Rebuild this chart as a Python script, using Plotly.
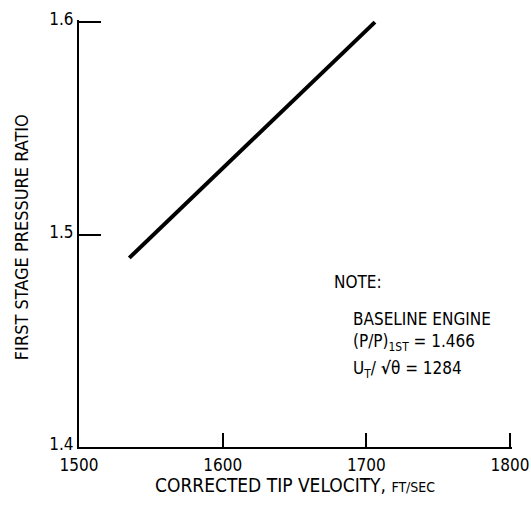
import plotly.graph_objects as go

# Data
tip_velocity = [1535, 1706]
pressure_ratio = [1.489, 1.600]
x_ticks = [1500, 1600, 1700, 1800]
y_ticks = [1.4, 1.5, 1.6]
y_tick_labels = ["1.4", "1.5", "1.6"]

FONT = "DejaVu Sans Condensed, Liberation Sans Narrow, sans-serif"

fig = go.Figure()
fig.add_trace(go.Scatter(x=tip_velocity, y=pressure_ratio, mode="lines",
                         line=dict(color="black", width=4), showlegend=False,
                         hoverinfo="skip", cliponaxis=False))

fig.update_layout(
    width=531, height=506,
    margin=dict(l=79, r=19, t=20, b=59, autoexpand=False),
    paper_bgcolor="white", plot_bgcolor="white",
    font=dict(family=FONT, size=17, color="black"),
    xaxis=dict(range=[1500, 1801.4], tickvals=x_ticks, ticktext=[str(v) for v in x_ticks],
               ticks="inside", ticklen=14, tickwidth=2, tickcolor="black",
               showline=True, linecolor="black", linewidth=2, showgrid=False,
               zeroline=False, fixedrange=True, automargin=False, tickfont=dict(size=17),
               ticklabelstandoff=2),
    yaxis=dict(range=[1.4, 1.601], tickvals=y_ticks, ticktext=y_tick_labels,
               ticks="inside", ticklen=22, tickwidth=2, tickcolor="black",
               showline=True, linecolor="black", linewidth=2, showgrid=False,
               zeroline=False, fixedrange=True, automargin=False, tickfont=dict(size=17),
               ticklabelshift=-3),
)

ann = [
    dict(x=0.499, y=-0.09, text="CORRECTED TIP VELOCITY, <span style='font-size:14px'>FT/SEC</span>",
         xanchor="center", yanchor="middle", font=dict(size=19)),
    dict(x=-0.131, y=0.492, text="FIRST STAGE PRESSURE RATIO", textangle=-90,
         xanchor="center", yanchor="middle", font=dict(size=18)),
    dict(x=0.585, y=0.386, text="NOTE:", xanchor="left", yanchor="middle"),
    dict(x=0.629, y=0.299, text="BASELINE ENGINE", xanchor="left", yanchor="middle"),
    dict(x=0.629, y=0.245, text="(P/P)<sub>1ST</sub> = 1.466", xanchor="left", yanchor="middle"),
    dict(x=0.629, y=0.181, text="U<sub>T</sub>/ <b>√</b>θ = 1284", xanchor="left", yanchor="middle"),
]
for a in ann:
    a.update(xref="paper", yref="paper", showarrow=False)
    fig.add_annotation(**a)

fig.write_html("out.html")
